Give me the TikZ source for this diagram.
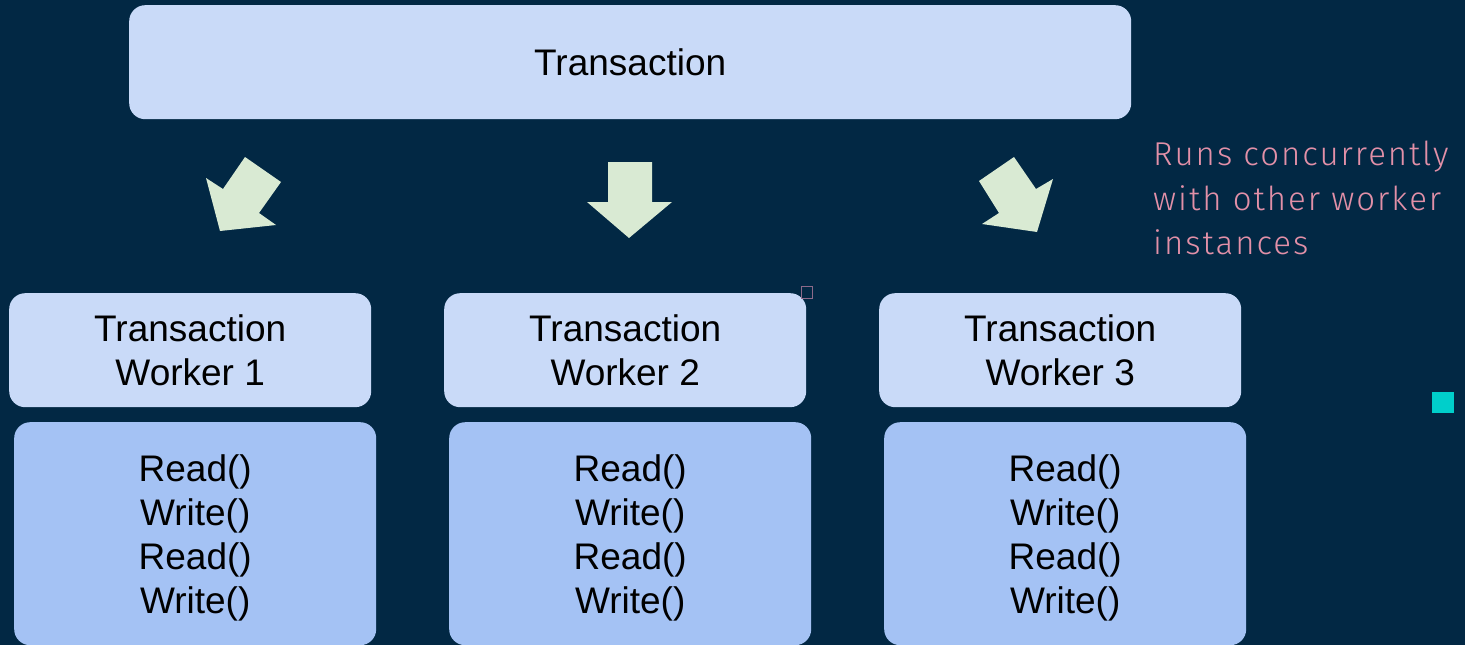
\documentclass[tikz,border=0pt]{standalone}
\usepackage{fontspec}
\setmainfont{Liberation Sans}
\newfontfamily\notefont[LetterSpace=6]{Fira Sans Light}
\definecolor{bgnavy}{HTML}{022844}
\definecolor{paleblue}{HTML}{C9DAF8}
\definecolor{midblue}{HTML}{A4C2F4}
\definecolor{palegreen}{HTML}{D9EAD3}
\definecolor{notepink}{HTML}{E290A8}
\definecolor{markteal}{HTML}{00CFCB}
\definecolor{markmauve}{HTML}{8C6A8A}
\begin{document}
\begin{tikzpicture}[x=1pt,y=-1pt,
  bodytext/.style={align=center, text=black, font=\fontsize{37}{44}\selectfont},
  box/.style={rounded corners=16pt, inner sep=0pt, anchor=north west, bodytext},
  headbox/.style={box, fill=paleblue, minimum width=1002pt, minimum height=114pt},
  workerbox/.style={box, fill=paleblue, minimum width=362pt, minimum height=114pt},
  opsbox/.style={box, fill=midblue, minimum width=362pt, minimum height=223pt},
  opstext/.style={bodytext, inner sep=0pt},
  blockarrow/.style={fill=palegreen},
  note/.style={anchor=north west, align=left, inner sep=0pt, text=notepink,
    font=\notefont\fontsize{33}{44.5}\selectfont}]
  % background
  \fill[bgnavy] (0,0) rectangle (1465,645);
  \useasboundingbox (0,0) rectangle (1465,645);

  % transaction header
  \node[headbox] (trans) at (129,5) {Transaction};

  % block arrows fanning out to the workers
  \fill[blockarrow] (245,157) -- (281,182) -- (259,213) -- (276,225)
    -- (220,231) -- (206,178) -- (223,189) -- cycle;
  \fill[blockarrow] (608,162) -- (652,162) -- (652,202) -- (672,202)
    -- (629,238) -- (587,202) -- (608,202) -- cycle;
  \fill[blockarrow] (1014,157) -- (1036,189) -- (1053,179) -- (1037,232)
    -- (982,224) -- (999,213) -- (979,181) -- cycle;

  % workers
  \node[workerbox] (w1) at (9,293) {Transaction\\Worker 1};
  \node[workerbox] (w2) at (444,293) {Transaction\\Worker 2};
  \node[workerbox] (w3) at (879,293) {Transaction\\Worker 3};

  % operations run by each worker
  \node[opsbox] (ops1) at (14,422) {};
  \node[opsbox] (ops2) at (449,422) {};
  \node[opsbox] (ops3) at (884,422) {};
  \node[opstext] (seq1) at ([yshift=-4pt]ops1.center) {Read()\\Write()\\Read()\\Write()};
  \node[opstext] (seq2) at ([yshift=-4pt]ops2.center) {Read()\\Write()\\Read()\\Write()};
  \node[opstext] (seq3) at ([yshift=-4pt]ops3.center) {Read()\\Write()\\Read()\\Write()};

  % side note
  \node[note] (note) at (1153,141) {Runs concurrently\\with other worker\\instances};

  % small markers
  \draw[markmauve, line width=1.3pt] (801.5,286.5) rectangle (812.5,298.5);
  \fill[markteal] (1432,392) rectangle (1454,413);
\end{tikzpicture}
\end{document}
